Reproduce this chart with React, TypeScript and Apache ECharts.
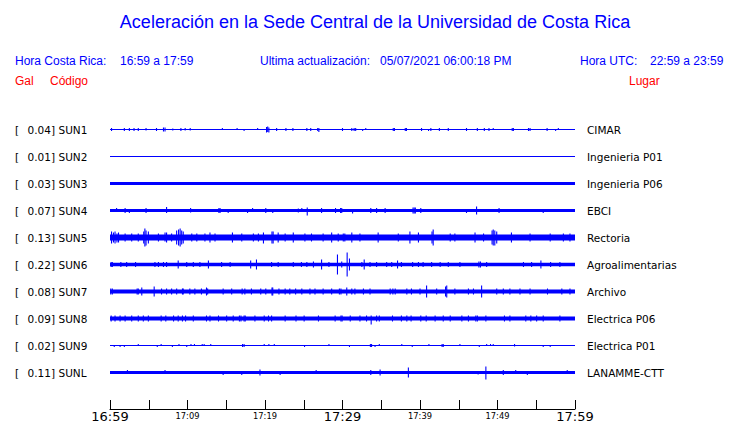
import React, { useEffect, useRef } from 'react';
import * as echarts from 'echarts';

const BLUE = '#0000ff';
const RED = '#ff0000';

const CODES = ['SUN1', 'SUN2', 'SUN3', 'SUN4', 'SUN5', 'SUN6', 'SUN7', 'SUN8', 'SUN9', 'SUNL'];
const GAL = ['0.04', '0.01', '0.03', '0.07', '0.13', '0.22', '0.08', '0.09', '0.02', '0.11'];
const PLACES = ['CIMAR', 'Ingenieria P01', 'Ingenieria P06', 'EBCI', 'Rectoria', 'Agroalimentarias', 'Archivo', 'Electrica P06', 'Electrica P01', 'LANAMME-CTT'];
const TIME_LABELS = ['16:59', '17:09', '17:19', '17:29', '17:39', '17:49', '17:59'];
const MAJOR_LABELS = ['16:59', '17:29', '17:59'];

// background noise half-amplitude of each trace (27 units = one row)
const NOISE = [0.5, 0.5, 1.5, 1.5, 3.0, 1.75, 2, 2, 0.5, 1.5];
const AMP_PER_ROW = 27;

// spikes: [minute after 16:59, up, down]
const SPIKES_SUN1 = [[0.2,1.5,1.5],[1.85,1.5,1.5],[2.5,1.5,1.5],[3.1,1.5,1.5],[3.65,1.5,1.5],[4.65,1.5,1],[6.0,1.5,1.5],[6.9,2,2],[7.1,2,2],[8.1,1,1],[9.15,1.5,1.5],[9.7,1.5,1],[10.35,1.5,1],[14.5,1.5,0],[16.4,1.5,0],[17.3,0,1.5],[19.05,1.5,0],[20.2,2.5,3],[20.35,3,2.5],[20.5,2,3],[21.5,1.5,1.5],[22.7,1.5,1.5],[23.6,1.5,1.5],[25.4,1.5,1.5],[25.9,1.5,1.5],[26.8,1.5,1.5],[26.95,1.5,2.5],[30.0,1.5,1.5],[31.2,1.5,1.5],[31.5,1.5,1.5],[31.7,1.5,1.5],[32.6,0,1.5],[33.0,1.5,0],[36.55,1.5,1.5],[36.7,1.5,1.5],[38.1,1.5,1.5],[38.25,1.5,1.5],[40.2,1.5,1.5],[41.1,0,1.5],[41.4,1.5,1.5],[42.5,1.5,1.5],[43.65,1.5,1.5],[46.0,1.5,1.5],[47.4,1.5,1.5],[48.3,1.5,1.5],[48.9,1.5,1.5],[49.45,1.5,0],[51.9,1.5,1.5],[52.05,1.5,1.5],[54.0,1.5,1.5],[54.2,1.5,1.5],[56.4,1.5,1.5],[57.5,0,1.5],[57.85,1.5,0]];
const SPIKES_SUN2: number[][] = [];
const SPIKES_SUN3 = [[35.0,1,0]];
const SPIKES_SUN4 = [[0.85,2.5,1],[1.95,2.5,2.5],[2.5,1,2.5],[4.65,2.5,2.5],[7.3,3.5,2.5],[10.4,2.5,2],[14.05,2.5,2.5],[14.2,2.5,2.5],[15.25,1,2.5],[17.75,1,2.5],[18.4,2.5,1],[20.1,2.5,2.5],[21.0,1,2.5],[24.3,2,2],[24.75,2.5,1],[25.45,3,5],[27.3,2.5,2.5],[29.1,2.5,2.5],[29.75,2.5,2.5],[29.9,2.5,2.5],[31.3,0,3],[33.65,2.5,2.5],[34.4,2.5,2.5],[35.5,2.5,2.5],[39.1,3,3],[39.25,3,3],[39.4,3,3],[40.1,2.5,2.5],[46.0,1,2.5],[47.3,4,4],[50.2,2.5,2.5],[55.9,1,2.5]];
const SPIKES_SUN5 = [[0.2,6,6],[0.45,5,5],[0.65,6,6],[0.9,4,5],[1.1,5,5],[1.95,4,4],[2.8,4,4],[3.65,4,4],[4.35,6,6],[4.5,9,9],[4.65,7,8],[4.95,6,6],[6.25,4,4],[7.1,5,4],[7.3,5,5],[7.95,4,4],[8.6,7,7],[8.85,8,8],[9.05,9,9],[9.25,7,7],[9.45,6,6],[10.55,4,4],[11.2,4,4],[12.25,4,4],[12.9,5,5],[13.55,4,4],[15.8,5,5],[17.0,4,4],[18.5,4,4],[19.15,4,4],[19.8,5,6],[20.9,6,6],[21.05,6,6],[21.7,5,5],[22.6,4,4],[23.65,5,5],[25.15,4,4],[26.0,4,4],[27.5,4,4],[28.6,5,5],[29.45,4,4],[30.1,4,4],[30.3,4,4],[31.2,5,5],[32.25,4,4],[34.6,5,5],[37.2,4,4],[38.7,6,6],[39.8,5,5],[41.55,6,6],[41.7,8,8],[43.9,4,4],[44.5,4,4],[47.1,5,5],[48.2,4,4],[49.3,7,7],[49.45,8,8],[49.65,7,8],[49.9,6,6],[51.8,5,5],[54.2,4,4],[56.8,4,4],[58.5,4,4],[59.35,4,4]];
const SPIKES_SUN6 = [[0.15,2.5,2.5],[0.3,2.5,2.5],[1.4,2.5,2.5],[2.15,2.5,2.5],[3.3,2.5,2.5],[5.8,2.5,2.5],[6.25,2.5,2.5],[6.9,2.5,2.5],[7.3,2.5,2.5],[8.8,4,4],[9.9,2.5,2.5],[10.75,2.5,2.5],[11.6,2.5,2.5],[12.7,4,4],[14.4,2.5,2.5],[15.5,2.5,2.5],[18.15,4,4],[18.9,5,5],[20.85,2.5,2.5],[21.7,2.5,2.5],[23.65,2.5,2.5],[24.7,2.5,2.5],[25.4,2.5,2.5],[26.25,3,3],[27.3,5,5],[28.25,2.5,2.5],[29.35,10,10],[29.9,3,3],[30.6,12,12],[30.9,6,6],[32.5,2.5,2.5],[32.8,5,5],[33.55,2.5,2.5],[34.4,2.5,2.5],[35.7,2.5,2.5],[36.35,2.5,2.5],[37.1,4,4],[37.6,2.5,2.5],[39.05,2.5,2.5],[39.8,2.5,2.5],[40.4,2.5,2.5],[41.5,2.5,2.5],[42.6,2.5,2.5],[43.65,2.5,2.5],[45.15,2.5,2.5],[47.6,3,3],[47.8,3,3],[48.6,2.5,2.5],[53.35,2.5,2.5],[54.4,2.5,2.5],[55.6,4,4],[56.85,2.5,2.5],[58.05,2.5,2.5]];
const SPIKES_SUN7 = [[0.1,3,3],[0.3,3,3],[3.5,3,3],[3.65,3,3],[4.1,4,4],[5.7,5,5],[6.65,3,3],[7.3,3,3],[7.95,3,3],[8.6,3,3],[9.35,3,3],[9.45,3,3],[10.3,3,3],[10.95,3,3],[11.8,3,3],[12.45,4,4],[12.6,3,3],[14.6,3,3],[15.7,3,3],[17.05,3,3],[17.4,3,3],[18.25,3,3],[19.45,3,3],[20.1,3,3],[20.9,4,4],[21.0,4,4],[21.8,3,3],[22.6,3,3],[23.2,3,3],[23.95,3,3],[24.75,3,3],[25.8,3,3],[26.45,3,3],[27.5,3,3],[28.6,3,3],[29.6,3,3],[29.8,3,3],[30.55,4,4],[31.2,3,3],[31.6,3,3],[32.7,3,3],[33.55,3,3],[36.15,3,3],[36.5,3,3],[36.8,3,3],[38.3,3,3],[38.9,3,3],[40.0,3,3],[40.85,6,6],[42.15,3,3],[43.3,5,5],[43.45,6,6],[44.5,3,3],[46.25,3,3],[46.9,3,3],[47.95,6,6],[49.9,3,3],[50.75,3,3],[51.6,3,3],[52.9,3,3],[54.2,3,3],[56.45,3,3],[58.3,3,3],[59.35,3,3]];
const SPIKES_SUN8 = [[0.15,3,3],[0.65,3,3],[1.3,3,3],[1.95,3,3],[2.8,3,3],[3.65,3,3],[4.3,3,3],[4.95,3,3],[6.6,3,3],[7.2,3,3],[8.2,3,3],[8.8,3,3],[9.35,3,3],[9.75,3,3],[10.75,3,3],[12.45,3,3],[12.9,3,3],[14.0,3,3],[15.05,3,3],[15.9,3,3],[16.7,3,3],[16.9,3,3],[17.3,3,3],[17.45,3,3],[18.7,3,3],[19.9,3,3],[20.45,3,3],[20.85,3,3],[22.6,3,3],[24.0,3,3],[25.05,3,3],[26.9,3,3],[29.05,3,3],[29.8,3,3],[29.95,3,3],[31.0,3,3],[32.25,3,3],[33.1,3,3],[33.7,3,6],[34.4,3,3],[34.75,3,3],[36.45,3,3],[37.6,3,3],[38.3,3,3],[38.85,3,3],[40.1,3,3],[40.8,3,3],[41.95,3,3],[43.0,3,3],[43.9,3,3],[45.4,3,3],[46.25,3,3],[47.2,3,3],[47.4,3,3],[48.5,3,3],[50.9,3,3],[51.6,3,3],[53.65,3,3],[54.3,3,3],[55.05,3,3],[55.9,3,3],[58.05,3,3]];
const SPIKES_SUN9 = [[0.55,0,1.5],[1.3,0,1.5],[1.85,0,1.5],[3.65,1.5,0],[6.1,0,1.5],[6.6,1.5,0],[8.05,0,1.5],[8.9,1.5,0],[9.9,0,1.5],[10.45,1.5,0],[10.9,1.5,0],[11.9,1.5,0],[12.15,1.5,0],[13.0,1.5,0],[17.1,1.5,1.5],[17.3,1.5,1.5],[19.9,1.5,0],[20.5,1.5,0],[21.2,1.5,0],[25.1,0,1.5],[28.25,1.5,0],[30.9,0,1.5],[33.6,1.5,1.5],[33.75,1.5,1.5],[34.2,0,1.5],[34.75,1.5,0],[37.65,1.5,0],[39.0,0,1.5],[41.15,1.5,0],[42.85,1.5,1.5],[43.0,1.5,1.5],[45.15,1.5,0],[47.65,0,1.5],[48.6,1.5,0],[49.1,1.5,0],[49.45,1.5,0],[52.2,1.5,1],[55.9,0,1.5],[56.8,0,1.5]];
const SPIKES_SUNL = [[2.25,2.5,0],[7.1,2.5,0],[14.6,0,2.5],[17.0,0,2.5],[19.35,3,3],[21.95,0,2.5],[26.6,2.5,0],[33.65,2.5,2.5],[34.85,3,3],[38.5,5,5],[47.5,0,2],[48.5,6,7],[50.75,2.5,2.5],[52.35,2.5,0],[53.85,0,2.5],[59.0,2.5,0]];

const SPIKES = [SPIKES_SUN1, SPIKES_SUN2, SPIKES_SUN3, SPIKES_SUN4, SPIKES_SUN5, SPIKES_SUN6, SPIKES_SUN7, SPIKES_SUN8, SPIKES_SUN9, SPIKES_SUNL];

const LABEL_FONT = 'DejaVu Sans';
const HEAD_FONT = '"Liberation Sans", Arial, sans-serif';

export default function App() {
  const ref = useRef<HTMLDivElement>(null);
  useEffect(() => {
    if (!ref.current) return;
    const chart = echarts.init(ref.current, null, { renderer: 'svg' });

    const bandData = NOISE.map((n, i) => [0, i, n]);
    const spikeData: number[][] = [];
    SPIKES.forEach((list, i) => list.forEach((s) => spikeData.push([s[0], i, s[1], s[2]])));

    const catAxis = (extra: any) => ({
      type: 'category',
      data: CODES,
      inverse: true,
      gridIndex: 0,
      axisLine: { show: false },
      axisTick: { show: false },
      splitLine: { show: false },
      ...extra,
    });
    const lbl = { fontFamily: LABEL_FONT, fontSize: 10.5, color: '#000', interval: 0 };

    const headText = (text: string, x: number, y: number, color: string) => ({
      type: 'text',
      x,
      y,
      style: { text, fill: color, font: `12px ${HEAD_FONT}`, align: 'left', verticalAlign: 'middle' },
    });

    chart.setOption({
      animation: false,
      backgroundColor: '#fff',
      grid: [
        { left: 110, width: 465, top: 116, height: 270 },
        { left: 110, width: 465, top: 400, height: 9 },
      ],
      xAxis: [
        { type: 'value', gridIndex: 0, min: 0, max: 60, show: false },
        {
          type: 'value',
          gridIndex: 1,
          min: 0,
          max: 60,
          interval: 5,
          axisLine: { show: true, lineStyle: { color: '#000', width: 1 } },
          axisTick: { show: true, inside: true, length: 9, lineStyle: { color: '#000', width: 1 } },
          splitLine: { show: false },
          axisLabel: {
            margin: 0,
            showMinLabel: true,
            showMaxLabel: true,
            formatter: (v: number) => {
              if (v % 10 !== 0) return '';
              const t = TIME_LABELS[v / 10];
              return MAJOR_LABELS.includes(t) ? `{big|${t}}` : `{small|${t}}`;
            },
            rich: {
              big: { fontFamily: LABEL_FONT, fontSize: 13, color: '#000', lineHeight: 14 },
              small: { fontFamily: LABEL_FONT, fontSize: 8.3, color: '#000', lineHeight: 14 },
            },
          },
        },
      ],
      yAxis: [
        catAxis({ position: 'left', axisLabel: { ...lbl, align: 'left', margin: 95, formatter: () => '[' } }),
        catAxis({ position: 'left', axisLabel: { ...lbl, align: 'right', margin: 55, formatter: (_v: string, i: number) => GAL[i] + ']' } }),
        catAxis({ position: 'left', axisLabel: { ...lbl, align: 'left', margin: 51.5, formatter: (v: string) => v } }),
        catAxis({ position: 'right', axisLabel: { ...lbl, align: 'left', margin: 12, formatter: (_v: string, i: number) => PLACES[i] } }),
        { type: 'value', gridIndex: 1, show: false, min: 0, max: 1 },
      ],
      graphic: [
        {
          type: 'text',
          x: 375,
          y: 22,
          style: { text: 'Aceleración en la Sede Central de la Universidad de Costa Rica', fill: BLUE, font: `18px ${HEAD_FONT}`, align: 'center', verticalAlign: 'middle' },
        },
        headText('Hora Costa Rica:', 15, 61, BLUE),
        headText('16:59 a 17:59', 120, 61, BLUE),
        headText('Ultima actualización:', 260, 61, BLUE),
        headText('05/07/2021 06:00:18 PM', 380, 61, BLUE),
        headText('Hora UTC:', 580, 61, BLUE),
        headText('22:59 a 23:59', 650, 61, BLUE),
        headText('Gal', 15, 81, RED),
        headText('Código', 50, 81, RED),
        headText('Lugar', 629, 81, RED),
      ],
      series: [
        {
          type: 'custom',
          xAxisIndex: 0,
          yAxisIndex: 0,
          data: bandData,
          encode: { x: 0, y: 1 },
          renderItem: (_p: any, api: any) => {
            const row = api.value(1);
            const noise = api.value(2);
            const p0 = api.coord([0, row]);
            const p1 = api.coord([60, row]);
            const bandH = api.size([0, 1])[1];
            const h = Math.max(1, (2 * noise * bandH) / AMP_PER_ROW);
            return {
              type: 'rect',
              shape: { x: p0[0], y: p0[1] - h / 2, width: p1[0] - p0[0], height: h },
              style: { fill: BLUE },
            };
          },
        },
        {
          type: 'custom',
          xAxisIndex: 0,
          yAxisIndex: 0,
          data: spikeData,
          encode: { x: 0, y: 1 },
          renderItem: (_p: any, api: any) => {
            const p = api.coord([api.value(0), api.value(1)]);
            const k = api.size([0, 1])[1] / AMP_PER_ROW;
            const up = api.value(2) * k;
            const down = api.value(3) * k;
            return {
              type: 'line',
              shape: { x1: p[0], y1: p[1] - Math.max(up, 0.5), x2: p[0], y2: p[1] + Math.max(down, 0.5) },
              style: { stroke: BLUE, lineWidth: 1.1 },
            };
          },
        },
      ],
    });
    return () => chart.dispose();
  }, []);
  return <div ref={ref} style={{ position: 'absolute', left: 0, top: 0, width: 740, height: 423 }} />;
}
